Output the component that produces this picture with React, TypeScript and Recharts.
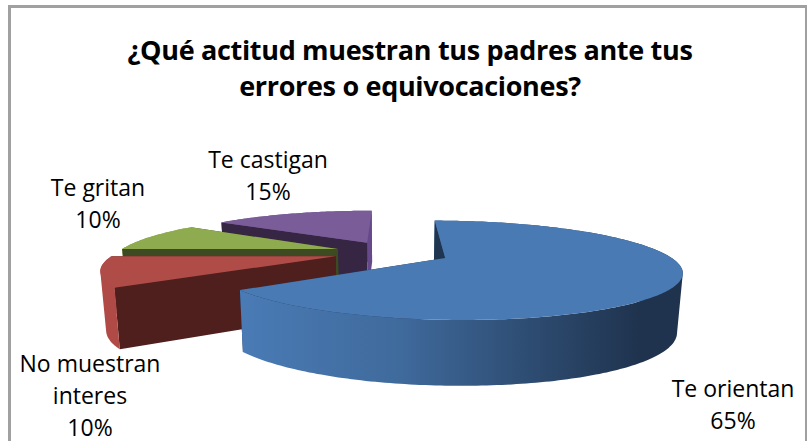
import { Pie, PieChart } from "recharts";

const categories = ["Te castigan", "Te gritan", "No muestran interes", "Te orientan"];
const values = [15, 10, 10, 65];
const topColors = ["#7A5C99", "#8FAB4F", "#B04C48", "#4A7AB3"];
const sideColors = ["#6F5290", "#8FAB4F", "#AF4A46", "url(#blueWall)"];
const startWallColors = ["#66498A", "#3E4A22", "#4F1F1E", "#1F3550"];
const endWallColors = ["#362643", "#3E4A22", "#4F1F1E", "#1F3550"];
const titleLines = ["¿Qué actitud muestran tus padres ante tus", "errores o equivocaciones?"];

// where each label sits, and how it wraps
const labelLayout: Record<string, { x: number; y: number; lines: string[] }> = {
    "Te castigan": { x: 268, y: 168, lines: ["Te castigan"] },
    "Te gritan": { x: 98, y: 196, lines: ["Te gritan"] },
    "No muestran interes": { x: 90, y: 372, lines: ["No muestran", "interes"] },
    "Te orientan": { x: 733, y: 397, lines: ["Te orientan"] },
};

const pieData = categories.map((name, i) => ({
    name,
    value: values[i],
    fill: topColors[i],
    side: sideColors[i],
    startWall: startWallColors[i],
    endWall: endWallColors[i],
}));

// fake 3D: tilted plane with perspective towards the viewer
const PERSPECTIVE = 0.00109;
const TILT = 0.2;
const EXPLODE = 58;
const RAD = Math.PI / 180;

type Pt = [number, number];

const toPath = (pts: Pt[]) =>
    "M" + pts.map(([x, y]) => `${x.toFixed(1)},${y.toFixed(1)}`).join("L") + "Z";

// all quads wound the same way so the nonzero fill never cancels at the silhouette
const quadPath = (q: Pt[]) => {
    let area = 0;
    q.forEach(([x, y], i) => {
        const [nx, ny] = q[(i + 1) % q.length];
        area += x * ny - nx * y;
    });
    return toPath(area < 0 ? [...q].reverse() : q);
};

function Slice3D(props: any) {
    const { cx, cy, outerRadius, startAngle, endAngle, fill, payload } = props;
    const { side, startWall, endWall } = payload;
    const mid = ((startAngle + endAngle) / 2) * RAD;
    const ox = Math.cos(mid) * EXPLODE;
    const oy = -Math.sin(mid) * EXPLODE;

    const top = (X: number, Y: number): Pt => {
        const s = 1 / (1 - PERSPECTIVE * Y);
        return [cx + X * s, cy + TILT * Y * s];
    };
    const bottom = (X: number, Y: number): Pt => {
        const s = 1 / (1 - PERSPECTIVE * Y);
        return [cx + X * s * 0.98, cy + TILT * Y * s + 32.4 + 24.5 * s];
    };
    const rim = (deg: number): Pt => [
        ox + Math.cos(deg * RAD) * outerRadius,
        oy - Math.sin(deg * RAD) * outerRadius,
    ];

    const angles: number[] = [];
    for (let a = startAngle; a < endAngle; a += 1) angles.push(a);
    angles.push(endAngle);

    const wallOf = (list: number[]) =>
        list
            .slice(1)
            .map((a, i) =>
                quadPath([top(...rim(list[i])), top(...rim(a)), bottom(...rim(a)), bottom(...rim(list[i]))])
            )
            .join("");
    const cutWall = (deg: number) => [
        top(ox, oy),
        top(...rim(deg)),
        bottom(...rim(deg)),
        bottom(ox, oy),
    ];

    const back = angles.filter((a) => Math.sin(a * RAD) >= -1e-9);
    const front = angles.filter((a) => Math.sin(a * RAD) <= 1e-9);
    const topFace = [top(ox, oy), ...angles.map((a) => top(...rim(a)))];

    return (
        <g>
            {back.length > 1 && <path d={wallOf(back)} fill={side} />}
            <path d={toPath(cutWall(startAngle))} fill={startWall} />
            <path d={toPath(cutWall(endAngle))} fill={endWall} />
            {front.length > 1 && <path d={wallOf(front)} fill={side} />}
            <path d={toPath(topFace)} fill={fill} />
        </g>
    );
}

function SliceLabel(props: any) {
    const { name, percent } = props;
    const { x, y, lines } = labelLayout[name];
    const rows = [...lines, `${Math.round(percent * 100)}%`];
    return (
        <text x={x} y={y} textAnchor="middle" fontFamily="Open Sans" fontSize={23} fill="#000">
            {rows.map((row, i) => (
                <tspan key={row} x={x} dy={i === 0 ? 0 : 32}>
                    {row}
                </tspan>
            ))}
        </text>
    );
}

export default function App() {
    return (
        <div style={{ position: "absolute", left: 0, top: 0, width: 807, height: 441, background: "#fff", overflow: "hidden" }}>
            <div style={{ position: "absolute", left: 8, top: 5, width: 794, height: 450, border: "3px solid #A0A0A0" }} />
            <PieChart width={807} height={441} margin={{ top: 0, right: 0, bottom: 0, left: 0 }} style={{ position: "absolute", left: 0, top: 0 }}>
                <defs>
                    <linearGradient id="blueWall" gradientUnits="userSpaceOnUse" x1={240} y1={0} x2={640} y2={0}>
                        <stop offset="0" stopColor="#4A7BB5" />
                        <stop offset="0.4" stopColor="#3F6A9C" />
                        <stop offset="1" stopColor="#1F334E" />
                    </linearGradient>
                </defs>
                <text textAnchor="middle" fontFamily="Open Sans" fontWeight={700} fontSize={27} letterSpacing={-0.32} fill="#000">
                    {titleLines.map((line, i) => (
                        <tspan key={line} x={410} y={60 + i * 36}>
                            {line}
                        </tspan>
                    ))}
                </text>
                <Pie
                    data={pieData}
                    dataKey="value"
                    nameKey="name"
                    cx={392}
                    cy={252.6}
                    outerRadius={220}
                    startAngle={90}
                    endAngle={450}
                    stroke="none"
                    labelLine={false}
                    label={SliceLabel}
                    shape={Slice3D}
                    isAnimationActive={false}
                />
            </PieChart>
        </div>
    );
}
